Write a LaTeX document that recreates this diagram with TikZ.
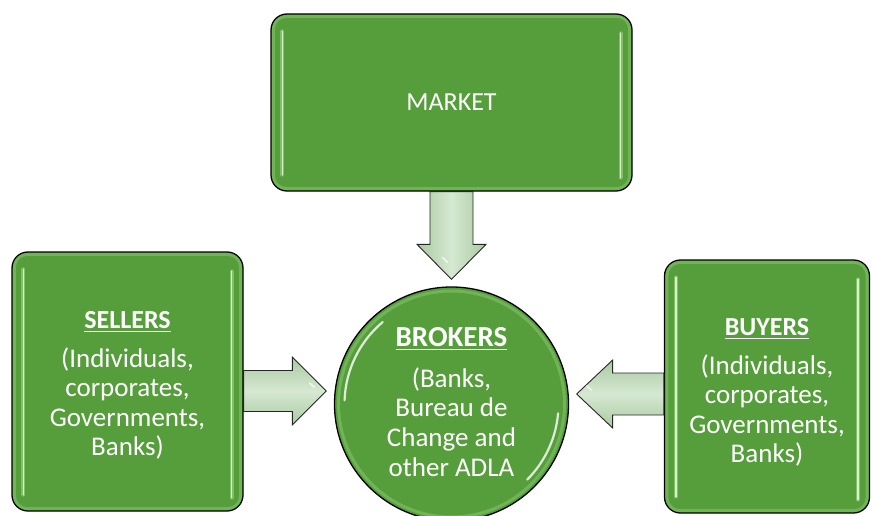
\documentclass[tikz,border=0pt]{standalone}
\usepackage{fontspec}
\setmainfont{Carlito}
\usetikzlibrary{calc}

\definecolor{boxgreen}{HTML}{559E3B}
\definecolor{glowgreen}{HTML}{A8DC8C}
\definecolor{arrowlight}{HTML}{D6E8D2}
\definecolor{arrowdark}{HTML}{A9CAA1}

% underlined heading with a rule of fixed weight
\newcommand\hdul[1]{\setbox0\hbox{#1}\rlap{\rule[-3.6pt]{\wd0}{1.5pt}}\box0}

\tikzset{
  panel/.style={draw=black, line width=1.3pt, fill=boxgreen, rounded corners=16pt,
    inner sep=0pt},
  hub/.style={circle, draw=black, line width=1.3pt, fill=boxgreen, inner sep=0pt},
  caption/.style={text=white, align=center, inner sep=0pt,
    font=\fontsize{27}{29.6}\selectfont},
  fatarrow/.style={draw=black!85, line width=0.9pt, line join=miter},
  hshade/.style={top color=arrowdark, bottom color=arrowdark, middle color=arrowlight},
  vshade/.style={left color=arrowdark, right color=arrowdark, middle color=arrowlight},
  glowline/.style={draw=glowgreen, line width=4pt, line cap=round, opacity=0.55},
  coreline/.style={draw=white!55!glowgreen, line width=1.6pt, line cap=round},
  rim/.style={draw=glowgreen, line width=3pt, opacity=0.35},
  shine/.style={draw=white, line width=2.2pt, line cap=round, opacity=0.8},
}

\begin{document}
\begin{tikzpicture}[x=1pt,y=1pt]
\useasboundingbox (0,0) rectangle (872,515);

% --- the four parties ---
\node[panel, minimum width=361pt, minimum height=177pt] (market) at (451.5,412.5) {};
\node[panel, minimum width=231pt, minimum height=259pt] (sellers) at (127.5,133.5) {};
\node[panel, minimum width=205pt, minimum height=253pt] (buyers) at (767,128.5) {};
\node[hub, minimum size=234pt] (brokers) at (451.5,111) {};

% --- soft inner rims and gloss strokes ---
\foreach \b in {market,sellers,buyers}{
  \draw[rim, rounded corners=13pt]
    ($(\b.south west)+(3,3)$) rectangle ($(\b.north east)+(-3,-3)$);
  \draw[glowline] ($(\b.north west)+(12,-18)$) -- ($(\b.south west)+(12,17)$);
  \draw[coreline] ($(\b.north west)+(12,-18)$) -- ($(\b.south west)+(12,17)$);
  \draw[glowline] ($(\b.north east)+(-12,-20)$) -- ($(\b.south east)+(-12,14)$);
  \draw[coreline] ($(\b.north east)+(-12,-20)$) -- ($(\b.south east)+(-12,14)$);
}
\draw[rim] (brokers.center) circle (113);
\draw[shine] ($(brokers.center)+(130:107)$) arc (130:178:107);
\draw[shine] ($(brokers.center)+(-5:107)$) arc (-5:-45:107);

% --- captions ---
\node[caption] (market-text) at (market.center) {\fontsize{26}{29}\selectfont MARKET};
\node[caption] (sellers-text) at ($(sellers.center)+(0,-4)$)
  {{\fontsize{26}{29}\selectfont\bfseries\hdul{SELLERS}}\\[9pt]
   (Individuals,\\corporates,\\Governments,\\Banks)};
\node[caption] (buyers-text) at ($(buyers.center)+(0,-6)$)
  {{\fontsize{26}{29}\selectfont\bfseries\hdul{BUYERS}}\\[9pt]
   (Individuals,\\corporates,\\Governments,\\Banks)};
\node[caption] (brokers-text) at ($(brokers.center)+(0,2)$)
  {{\fontsize{29}{31}\selectfont\bfseries\hdul{BROKERS}}\\[11pt]
   (Banks,\\Bureau de\\Change and\\other ADLA};

% --- block arrows into the brokers ---
\coordinate (mtip) at ($(brokers.north)+(0,7)$);
\path[fatarrow, vshade]
  ($(market.south)+(-21.5,0)$) -- ($(mtip)+(-21.5,35)$) -- ($(mtip)+(-34.5,35)$)
  -- (mtip) -- ($(mtip)+(34.5,35)$) -- ($(mtip)+(21.5,35)$)
  -- ($(market.south)+(21.5,0)$) -- cycle;

\coordinate (stip) at ($(brokers.west)+(-7.5,13)$);
\path[fatarrow, hshade]
  ($(sellers.east |- stip)+(0,20.5)$) -- ($(stip)+(-34,20.5)$) -- ($(stip)+(-34,34)$)
  -- (stip) -- ($(stip)+(-34,-34)$) -- ($(stip)+(-34,-20.5)$)
  -- ($(sellers.east |- stip)+(0,-20.5)$) -- cycle;

\coordinate (btip) at ($(brokers.east)+(7.5,10)$);
\path[fatarrow, hshade]
  ($(buyers.west |- btip)+(0,21)$) -- ($(btip)+(36,21)$) -- ($(btip)+(36,34)$)
  -- (btip) -- ($(btip)+(36,-34)$) -- ($(btip)+(36,-21)$)
  -- ($(buyers.west |- btip)+(0,-21)$) -- cycle;

% highlights on the arrow heads
\draw[shine, line width=1.6pt, opacity=0.7] ($(mtip)+(-9,22)$) -- ($(mtip)+(-4,17)$);
\draw[shine, line width=1.6pt, opacity=0.7] ($(stip)+(-17,8)$) -- ($(stip)+(-12,4)$);
\draw[shine, line width=1.6pt, opacity=0.7] ($(btip)+(10,8)$) -- ($(btip)+(15,4)$);
\end{tikzpicture}
\end{document}
